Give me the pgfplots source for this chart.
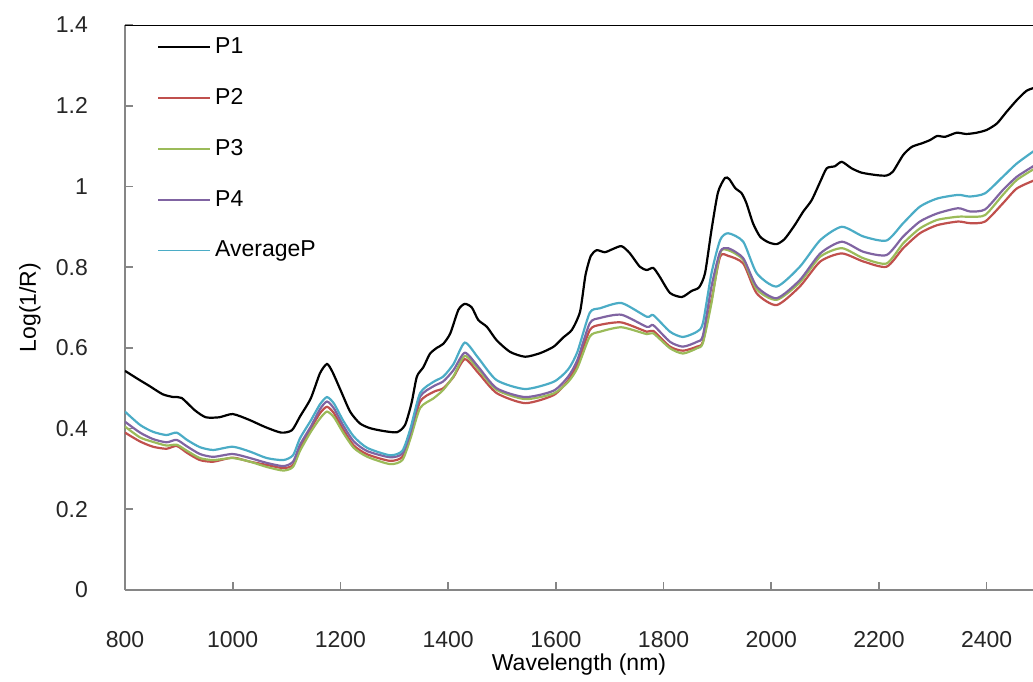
\documentclass[border=0pt]{standalone}
\usepackage{pgfplots}
\usepackage{pgfplotstable}
\pgfplotsset{compat=1.18}
\usepackage{fontspec}
\setmainfont{Liberation Sans}

\definecolor{cP2}{HTML}{C0504D}
\definecolor{cP3}{HTML}{9BBB59}
\definecolor{cP4}{HTML}{8064A2}
\definecolor{cAvg}{HTML}{4BACC6}
\definecolor{axgray}{HTML}{868686}

% P1 read separately, it has more detail
\pgfplotstableread{
x y
800 0.543
825 0.522
846 0.505
870 0.485
890 0.478
905 0.476
930 0.445
950 0.428
975 0.428
1000 0.436
1030 0.422
1060 0.404
1090 0.390
1110 0.396
1125 0.430
1145 0.475
1162 0.537
1175 0.560
1185 0.541
1200 0.496
1218 0.442
1236 0.413
1255 0.401
1280 0.394
1305 0.391
1320 0.409
1332 0.463
1342 0.529
1354 0.552
1366 0.585
1379 0.600
1391 0.610
1404 0.636
1419 0.694
1431 0.709
1444 0.700
1456 0.669
1472 0.652
1490 0.619
1515 0.590
1543 0.578
1571 0.587
1596 0.603
1614 0.626
1630 0.645
1645 0.690
1655 0.780
1665 0.828
1676 0.842
1691 0.837
1706 0.845
1722 0.852
1737 0.835
1756 0.801
1769 0.793
1781 0.798
1793 0.776
1812 0.736
1834 0.726
1852 0.741
1866 0.750
1877 0.785
1889 0.892
1901 0.985
1914 1.021
1922 1.018
1933 0.996
1945 0.983
1954 0.958
1966 0.909
1979 0.876
1994 0.862
2010 0.857
2025 0.870
2044 0.905
2059 0.937
2075 0.966
2091 1.012
2103 1.045
2118 1.050
2131 1.061
2149 1.045
2168 1.034
2196 1.028
2214 1.027
2226 1.037
2245 1.078
2261 1.098
2280 1.107
2295 1.115
2308 1.125
2323 1.123
2344 1.133
2362 1.130
2381 1.133
2400 1.140
2419 1.156
2437 1.185
2456 1.214
2474 1.237
2490 1.245
}\tabPone

\pgfplotstableread{
x    P2    P3    P4    Avg
800  0.390 0.405 0.417 0.442
828  0.368 0.378 0.390 0.409
852  0.355 0.367 0.374 0.392
877  0.350 0.358 0.366 0.384
896  0.357 0.360 0.372 0.390
915  0.340 0.345 0.356 0.372
939  0.322 0.327 0.337 0.354
964  0.318 0.322 0.330 0.347
1000 0.328 0.327 0.337 0.355
1032 0.318 0.318 0.327 0.343
1063 0.310 0.305 0.315 0.327
1094 0.302 0.296 0.307 0.322
1112 0.310 0.305 0.318 0.334
1125 0.352 0.345 0.360 0.376
1145 0.400 0.392 0.405 0.420
1162 0.438 0.425 0.448 0.460
1175 0.454 0.442 0.467 0.478
1188 0.438 0.428 0.450 0.462
1205 0.398 0.390 0.408 0.420
1225 0.358 0.352 0.368 0.380
1250 0.336 0.330 0.344 0.352
1292 0.320 0.312 0.329 0.334
1315 0.330 0.322 0.338 0.345
1330 0.382 0.375 0.390 0.400
1348 0.467 0.451 0.479 0.488
1373 0.491 0.475 0.505 0.516
1391 0.500 0.496 0.517 0.529
1410 0.528 0.530 0.545 0.560
1431 0.572 0.580 0.588 0.613
1456 0.538 0.547 0.553 0.575
1490 0.488 0.496 0.500 0.520
1543 0.463 0.473 0.478 0.498
1596 0.483 0.487 0.494 0.516
1623 0.520 0.516 0.529 0.547
1640 0.560 0.550 0.570 0.590
1663 0.644 0.628 0.661 0.687
1682 0.657 0.640 0.674 0.698
1722 0.663 0.651 0.682 0.711
1769 0.640 0.634 0.652 0.677
1781 0.642 0.636 0.656 0.681
1812 0.603 0.599 0.615 0.640
1836 0.593 0.586 0.603 0.627
1862 0.603 0.599 0.615 0.640
1873 0.615 0.612 0.630 0.661
1889 0.719 0.711 0.752 0.785
1905 0.826 0.835 0.838 0.867
1920 0.828 0.842 0.847 0.884
1948 0.809 0.818 0.822 0.863
1973 0.735 0.745 0.752 0.785
2010 0.706 0.719 0.723 0.752
2053 0.752 0.762 0.768 0.801
2091 0.814 0.826 0.834 0.867
2131 0.834 0.847 0.863 0.900
2171 0.814 0.822 0.838 0.876
2214 0.801 0.809 0.830 0.866
2245 0.847 0.859 0.876 0.909
2276 0.884 0.896 0.913 0.950
2308 0.904 0.917 0.933 0.970
2347 0.913 0.925 0.946 0.979
2369 0.909 0.925 0.938 0.975
2397 0.913 0.929 0.943 0.983
2430 0.958 0.979 0.991 1.024
2456 0.995 1.016 1.024 1.057
2490 1.016 1.045 1.053 1.090
}\tabP

\begin{document}
\begin{tikzpicture}
\begin{axis}[
  name=ax,
  scale only axis,
  width=454pt, height=282.5pt,
  xmin=800, xmax=2486,
  ymin=0, ymax=1.4,
  axis x line*=bottom,
  axis y line*=left,
  axis line style={axgray, line width=1pt},
  every tick/.style={axgray, line width=0.8pt},
  tick align=inside,
  major tick length=4pt,
  xtick={800,1000,...,2400},
  ytick={0,0.2,...,1.4},
  /pgf/number format/1000 sep={},
  /pgf/number format/assume math mode=true,
  tick label style={font=\fontsize{11.5}{13}\selectfont, text=black!85},
  yticklabel style={xshift=-15pt},
  xticklabel style={yshift=-17pt},
  xlabel={Wavelength (nm)},
  ylabel={Log(1/R)},
  label style={font=\fontsize{11.5}{13}\selectfont},
  xlabel style={at={(axis description cs:0.5,-0.1327)}, anchor=center},
  ylabel style={at={(axis description cs:-0.1046,0.5)}, anchor=center},
  legend style={draw=none, fill=none, at={(0.0286,0.993)}, anchor=north west,
    font=\fontsize{11.5}{13}\selectfont, row sep=12pt,
    cells={anchor=west}},
  legend cell align=left,
  every axis plot/.append style={line width=1.1pt, smooth, tension=0.4},
  legend image code/.code={\draw[#1, line width=0.9pt] (0pt,0pt) -- (26pt,0pt);},
]
\addplot[black] table[x=x, y=y] {\tabPone};
\addlegendentry{P1}
\addplot[cP2] table[x=x, y=P2] {\tabP};
\addlegendentry{P2}
\addplot[cP3] table[x=x, y=P3] {\tabP};
\addlegendentry{P3}
\addplot[cP4] table[x=x, y=P4] {\tabP};
\addlegendentry{P4}
\addplot[cAvg] table[x=x, y=Avg] {\tabP};
\addlegendentry{AverageP}
\draw[black, line width=1pt] (rel axis cs:0,1) -- (rel axis cs:1,1);
\end{axis}
\pgfresetboundingbox
\path ([xshift=-62.5pt,yshift=-45.5pt]ax.south west) rectangle ([yshift=12.5pt]ax.north east);
\end{tikzpicture}
\end{document}
